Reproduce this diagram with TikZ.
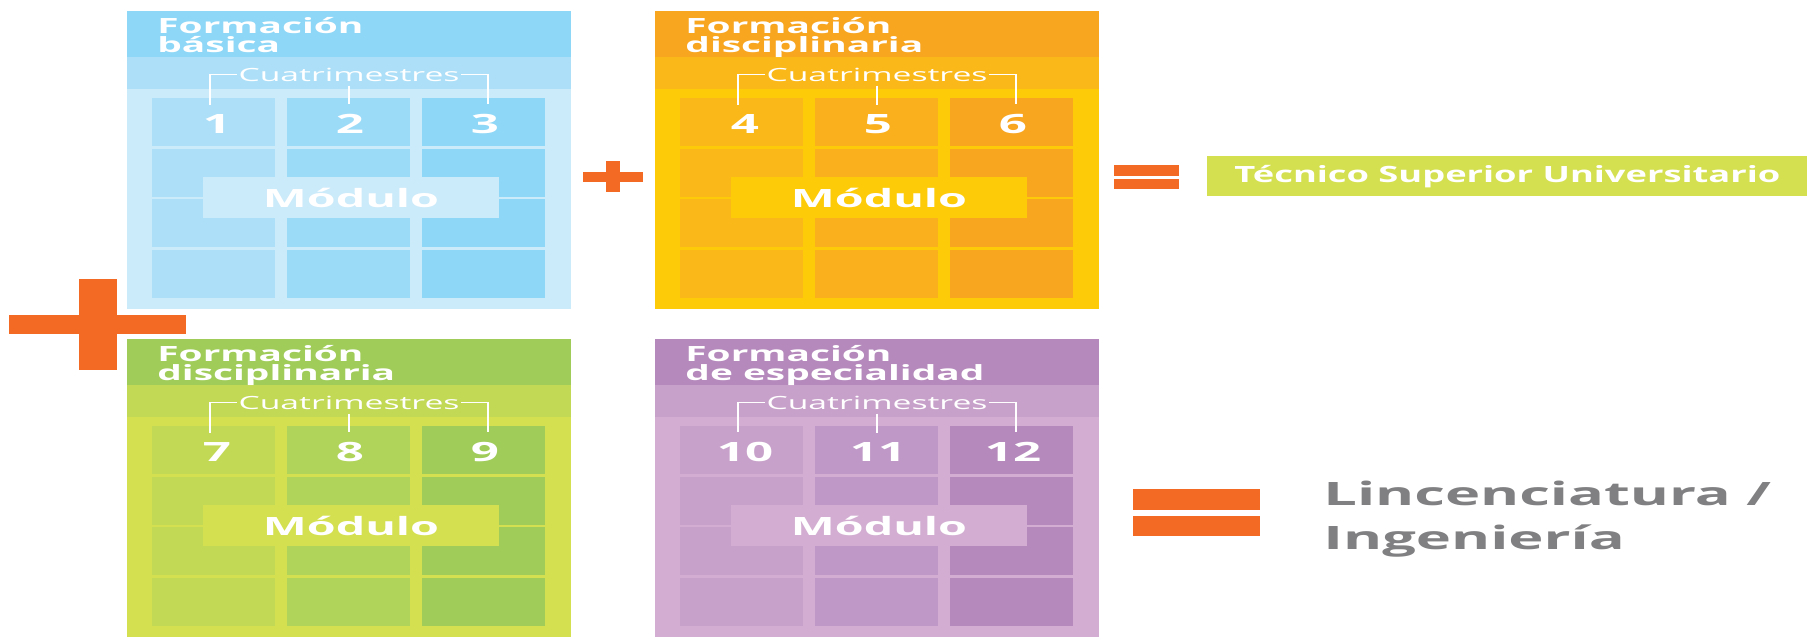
\documentclass[tikz,border=0pt]{standalone}
\usepackage{fontspec}
\setmainfont{Open Sans}[FakeStretch=1.85]
\newfontfamily\estrecha{Open Sans}[FakeStretch=1.62]
\usetikzlibrary{calc}

\definecolor{naranja}{HTML}{F26A24}
\definecolor{gris}{HTML}{808082}
\definecolor{lima}{HTML}{D5E050}
% bloque azul
\definecolor{azulA}{HTML}{8ED7F7}
\definecolor{azulB}{HTML}{ADE0F8}
\definecolor{azulC}{HTML}{CBEAFA}
\definecolor{azulD}{HTML}{9CDBF8}
% bloque amarillo
\definecolor{amarilloA}{HTML}{F8A520}
\definecolor{amarilloB}{HTML}{FBB919}
\definecolor{amarilloC}{HTML}{FDCB08}
\definecolor{amarilloD}{HTML}{FAAF1D}
% bloque verde
\definecolor{verdeA}{HTML}{A0CC5A}
\definecolor{verdeB}{HTML}{C2D955}
\definecolor{verdeC}{HTML}{D4E04F}
\definecolor{verdeD}{HTML}{B0D35A}
% bloque morado
\definecolor{moradoA}{HTML}{B589BC}
\definecolor{moradoB}{HTML}{C8A1CA}
\definecolor{moradoC}{HTML}{D3AED2}
\definecolor{moradoD}{HTML}{BF98C7}

\tikzset{
  titulo/.style={text=white, font=\bfseries\fontsize{10.5}{9.5}\selectfont, align=left, inner sep=0pt, anchor=north west},
  cuatri/.style={text=white, font=\fontsize{9.1}{10}\selectfont, inner xsep=0.5pt, inner ysep=2pt, anchor=base},
  numero/.style={text=white, font=\bfseries\fontsize{13.3}{14}\selectfont, inner xsep=0pt, inner ysep=4.5pt, anchor=base},
  modulo/.style={text=white, font=\bfseries\fontsize{12.6}{13}\selectfont, minimum width=148pt, minimum height=20.5pt, inner sep=0pt},
  corchete/.style={draw=white, line width=0.6pt},
  signo/.style={fill=naranja},
  etiqueta/.style={fill=lima, text=white, font=\estrecha\bfseries\fontsize{11.2}{12}\selectfont, minimum width=300pt, minimum height=20pt, inner sep=0pt, anchor=north west},
  grado/.style={text=gris, font=\bfseries\fontsize{16.1}{22}\selectfont, align=left, inner sep=0pt, anchor=north west}
}

\def\bloque(#1,#2)#3#4#5#6#7{
  \begin{scope}[shift={(#1,#2)}]
    \fill[#3A] (0,0) rectangle (444,46);
    \fill[#3B] (0,46) rectangle (444,78);
    \fill[#3C] (0,78) rectangle (444,298);
    \foreach \ya/\yb in {87/135,138/186,188/236,239/287}{
      \fill[#3B] (25,\ya) rectangle (148,\yb);
      \fill[#3D] (160,\ya) rectangle (283,\yb);
      \fill[#3A] (295,\ya) rectangle (418,\yb);
    }
    \node[titulo] (#3-titulo) at (30,6) {#4};
    \node[cuatri] (#3-cuatri) at (222,70) {Cuatrimestres};
    \node[numero] (#3-n1) at (90,122) {#5};
    \node[numero] (#3-n2) at (223,122) {#6};
    \node[numero] (#3-n3) at (358,122) {#7};
    \draw[corchete] (#3-cuatri.west) -| ([xshift=-3.5pt]#3-n1.north);
    \draw[corchete] (#3-cuatri.east) -| ([xshift=1.5pt]#3-n3.north);
    \draw[corchete] (#3-cuatri.south) -- (#3-cuatri.south |- #3-n2.north);
    \node[modulo, fill=#3C] (#3-modulo) at (224,186.5) {Módulo};
  \end{scope}
}

\begin{document}
\begin{tikzpicture}[x=0.5pt, y=-0.5pt]
  \useasboundingbox (0,0) rectangle (1807,639);

  \bloque(127,11){azul}{Formación\\básica}{1}{2}{3}
  \bloque(655,11){amarillo}{Formación\\disciplinaria}{4}{5}{6}
  \bloque(127,339){verde}{Formación\\disciplinaria}{7}{8}{9}
  \bloque(655,339){morado}{Formación\\de especialidad}{10}{11}{12}

  % signos
  \fill[signo] (583,172) rectangle (643,182);
  \fill[signo] (606,161) rectangle (620,192);
  \fill[signo] (9,315) rectangle (186,334);
  \fill[signo] (79,279) rectangle (117,370);
  \fill[signo] (1114,165) rectangle (1179,176);
  \fill[signo] (1114,179) rectangle (1179,189);
  \fill[signo] (1133,489) rectangle (1260,510);
  \fill[signo] (1133,516) rectangle (1260,536);

  % resultados
  \node[etiqueta] (tsu) at (1207,156) {Técnico Superior Universitario};
  \node[grado] (lic) at (1323,481) {Lincenciatura /\\Ingeniería};
\end{tikzpicture}
\end{document}
